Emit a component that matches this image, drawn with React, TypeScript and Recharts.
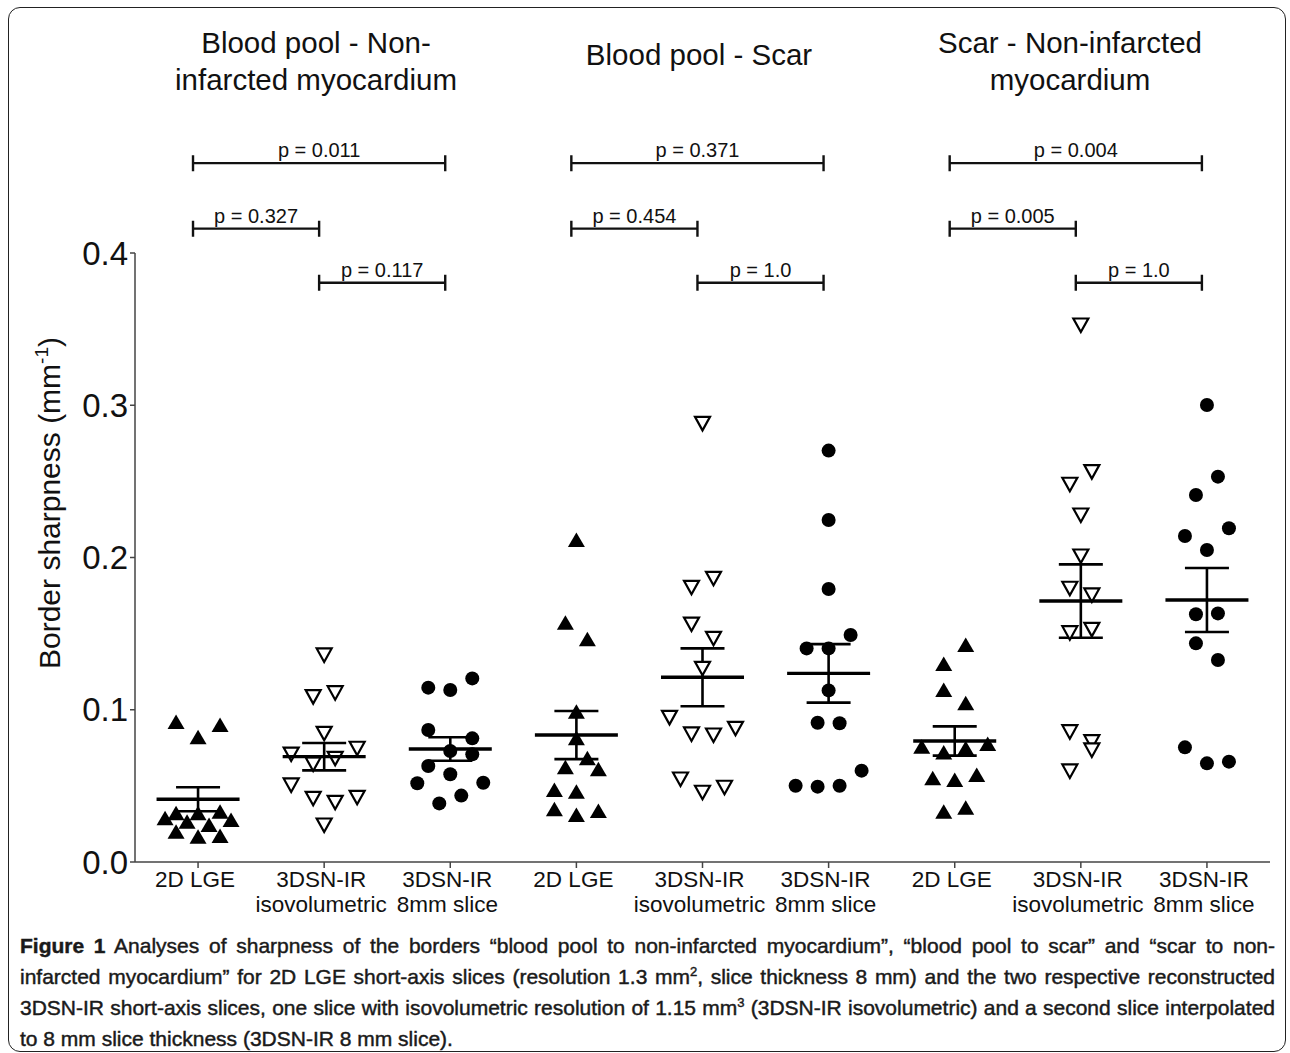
import React from "react";
import { ScatterChart, Scatter, XAxis, YAxis, ErrorBar, ReferenceLine } from "recharts";

const FONT = '"Liberation Sans", Arial, Helvetica, sans-serif';

// tick labels (one entry per column, lines split)
const tickLines = [
  ["2D LGE"], ["3DSN-IR", "isovolumetric"], ["3DSN-IR", "8mm slice"],
  ["2D LGE"], ["3DSN-IR", "isovolumetric"], ["3DSN-IR", "8mm slice"],
  ["2D LGE"], ["3DSN-IR", "isovolumetric"], ["3DSN-IR", "8mm slice"],
];
const yTicks = [0, 0.1, 0.2, 0.3, 0.4];
const sectionTitles = [
  ["Blood pool - Non-", "infarcted myocardium"],
  ["Blood pool - Scar"],
  ["Scar - Non-infarcted", "myocardium"],
];

// border sharpness values (mm^-1)
const bpNiLge = [0.092, 0.082, 0.09, 0.0287, 0.032, 0.032, 0.033, 0.0276, 0.0265, 0.0243, 0.0199, 0.0166, 0.0171];
const bpNiIso = [0.136, 0.1086, 0.1112, 0.0845, 0.0709, 0.0747, 0.0681, 0.0644, 0.0506, 0.0418, 0.0392, 0.0425, 0.0243];
const bpNi8mm = [0.1206, 0.1145, 0.113, 0.0867, 0.0812, 0.0729, 0.0707, 0.0631, 0.0576, 0.0517, 0.0521, 0.0436, 0.0385];
const bpScarLge = [0.2115, 0.1572, 0.1463, 0.0987, 0.0812, 0.0681, 0.0622, 0.0609, 0.0473, 0.0462, 0.0346, 0.0309, 0.0335];
const bpScarIso = [0.2881, 0.1863, 0.1804, 0.1563, 0.1469, 0.1272, 0.095, 0.0841, 0.0834, 0.0878, 0.0545, 0.0458, 0.0491];
const bpScar8mm = [0.2702, 0.2246, 0.1793, 0.1491, 0.1403, 0.1403, 0.1127, 0.0915, 0.0911, 0.06, 0.0501, 0.0495, 0.0501];
const scarNiLge = [0.1425, 0.13, 0.113, 0.1042, 0.0757, 0.072, 0.0747, 0.0775, 0.055, 0.0539, 0.0571, 0.033, 0.0357];
const scarNiIso = [0.3527, 0.2564, 0.2481, 0.2279, 0.201, 0.1798, 0.1754, 0.1506, 0.1528, 0.0856, 0.079, 0.0736, 0.0598];
const scarNi8mm = [0.3002, 0.2531, 0.2411, 0.2192, 0.2141, 0.2049, 0.1627, 0.1633, 0.1436, 0.1327, 0.0753, 0.0648, 0.0659];

// mean and SEM per column
const means = [0.0412, 0.0692, 0.0742, 0.0834, 0.1213, 0.1239, 0.0795, 0.1714, 0.1721];
const sems = [0.0079, 0.009, 0.0077, 0.0158, 0.019, 0.0192, 0.0096, 0.0241, 0.021];

// p-values per section: [first vs last, first vs second, second vs last]
const pValues = [
  ["p = 0.011", "p = 0.327", "p = 0.117"],
  ["p = 0.371", "p = 0.454", "p = 1.0"],
  ["p = 0.004", "p = 0.005", "p = 1.0"],
];
const bracketPairs = [[0, 2], [0, 1], [1, 2]];
const bracketLevels = [0.459, 0.416, 0.3805];

// scatter-dot column slots (horizontal spread of each point)
const slotsLge0 = [-2, 0, 2, -3, -2, 0, 2, 3, -1, 1, -2, 0, 2];
const slotsIso0 = [0, -1, 1, 0, -3, 3, 1, -1, -3, -1, 1, 3, 0];
const slots8mm0 = [2, -2, 0, -2, 2, 0, 2, -2, 0, -3, 3, 1, -1];
const slotsLge1 = [0, -1, 1, 0, 0, 1, -1, 2, -2, 0, -2, 0, 2];
const slotsIso1 = [0, 1, -1, -1, 1, 0, -3, -1, 1, 3, -2, 0, 2];
const slots8mm1 = [0, 0, 0, 2, -2, 0, 0, -1, 1, 3, -3, -1, 1];
const slotsLge2 = [1, -1, -1, 1, -3, -1, 1, 3, -2, 0, 2, -1, 1];
const slotsIso2 = [0, 1, -1, 0, 0, -1, 1, -1, 1, -1, 1, 1, -1];
const slots8mm2 = [0, 1, -1, 2, -2, 0, -1, 1, -1, 1, -2, 0, 2];

const SLOT = 0.0872;
const BRACKET_SHIFT = -0.04;

const columns = [
  { values: bpNiLge, slots: slotsLge0, kind: "up" },
  { values: bpNiIso, slots: slotsIso0, kind: "down" },
  { values: bpNi8mm, slots: slots8mm0, kind: "dot" },
  { values: bpScarLge, slots: slotsLge1, kind: "up" },
  { values: bpScarIso, slots: slotsIso1, kind: "down" },
  { values: bpScar8mm, slots: slots8mm1, kind: "dot" },
  { values: scarNiLge, slots: slotsLge2, kind: "up" },
  { values: scarNiIso, slots: slotsIso2, kind: "down" },
  { values: scarNi8mm, slots: slots8mm2, kind: "dot" },
];

const meanData = means.map((m, i) => ({ x: i, y: m, err: sems[i] }));

const UpTri = (p: any) => (
  <path d={`M${p.cx},${p.cy - 7.5} L${p.cx + 8.5},${p.cy + 7} L${p.cx - 8.5},${p.cy + 7} Z`} fill="#000" />
);
const DownTri = (p: any) => (
  <path
    d={`M${p.cx - 7.5},${p.cy - 6.5} L${p.cx + 7.5},${p.cy - 6.5} L${p.cx},${p.cy + 7} Z`}
    fill="#fff"
    stroke="#000"
    strokeWidth={2.2}
    strokeLinejoin="miter"
  />
);
const Dot = (p: any) => <circle cx={p.cx} cy={p.cy} r={7} fill="#000" />;
const MeanLine = (p: any) => (
  <line x1={p.cx - 41.5} x2={p.cx + 41.5} y1={p.cy} y2={p.cy} stroke="#000" strokeWidth={3.4} />
);
const shapes: Record<string, any> = { up: UpTri, down: DownTri, dot: Dot };

const Bracket = (p: any) => (
  <path
    d={`M${p.x1},${p.y1 - 8} V${p.y1 + 8} M${p.x1},${p.y1} H${p.x2} M${p.x2},${p.y1 - 8} V${p.y1 + 8}`}
    stroke="#111"
    strokeWidth={2.4}
    fill="none"
  />
);

const XTick = (props: any) => {
  const { x, y, payload } = props;
  const lines = tickLines[payload.value] ?? [];
  return (
    <text x={x - 3} y={y} textAnchor="middle" fontSize={22.5} fill="#111" fontFamily={FONT}>
      {lines.map((l, i) => (
        <tspan key={i} x={x - 3} dy={i === 0 ? 17 : 25}>
          {l}
        </tspan>
      ))}
    </text>
  );
};

const YLabel = () => (
  <text transform="translate(60, 503) rotate(-90)" textAnchor="middle" fontSize={30} fill="#111" fontFamily={FONT}>
    Border sharpness (mm
    <tspan fontSize={19} dy={-12}>-1</tspan>
    <tspan dy={12}>)</tspan>
  </text>
);

const titleCenters = [316, 699, 1070];

export default function App() {
  return (
    <div style={{ position: "absolute", left: 0, top: 0, width: 1290, height: 1053, background: "#fff", fontFamily: FONT }}>
      <div
        style={{
          position: "absolute",
          left: 8,
          top: 7,
          width: 1276,
          height: 1043,
          border: "1.5px solid #222",
          borderRadius: 12,
        }}
      />
      {sectionTitles.map((lines, s) => (
        <div
          key={s}
          style={{
            position: "absolute",
            left: titleCenters[s] - 200,
            width: 400,
            top: lines.length > 1 ? 24 : 36,
            textAlign: "center",
            fontSize: 29.5,
            lineHeight: "37px",
            color: "#111",
          }}
        >
          {lines.map((l, i) => (
            <div key={i}>{l}</div>
          ))}
        </div>
      ))}
      <div style={{ position: "absolute", left: 0, top: 0 }}>
        <ScatterChart width={1290} height={1053} margin={{ top: 253, right: 20, bottom: 131, left: 0 }}>
          <XAxis
            type="number"
            dataKey="x"
            domain={[-0.5, 8.5]}
            ticks={[0, 1, 2, 3, 4, 5, 6, 7, 8]}
            interval={0}
            height={60}
            tickSize={6}
            tick={<XTick />}
            axisLine={{ stroke: "#444", strokeWidth: 1.5 }}
            tickLine={{ stroke: "#444", strokeWidth: 1.5 }}
          />
          <YAxis
            type="number"
            dataKey="y"
            domain={[0, 0.4]}
            ticks={yTicks}
            width={135}
            tickSize={5}
            tickFormatter={(v: number) => v.toFixed(1)}
            tick={{ fontSize: 33, fill: "#111", fontFamily: FONT }}
            axisLine={{ stroke: "#444", strokeWidth: 1.5 }}
            tickLine={{ stroke: "#444", strokeWidth: 1.5 }}
            label={<YLabel />}
          />
          {columns.map((c, i) => (
            <Scatter
              key={i}
              data={c.values.map((v, k) => ({ x: i + c.slots[k] * SLOT, y: v }))}
              shape={shapes[c.kind]}
              isAnimationActive={false}
            />
          ))}
          <Scatter data={meanData} shape={MeanLine} isAnimationActive={false}>
            <ErrorBar dataKey="err" direction="y" width={22} stroke="#000" strokeWidth={2.6} />
          </Scatter>
          {pValues.map((ps, s) =>
            ps.map((p, b) => (
              <ReferenceLine
                key={`${s}-${b}`}
                segment={[
                  { x: s * 3 + bracketPairs[b][0] + BRACKET_SHIFT, y: bracketLevels[b] },
                  { x: s * 3 + bracketPairs[b][1] + BRACKET_SHIFT, y: bracketLevels[b] },
                ]}
                ifOverflow="visible"
                shape={Bracket}
                label={{ value: p, position: "top", offset: 6, fontSize: 20, fill: "#111", fontFamily: FONT }}
              />
            ))
          )}
        </ScatterChart>
      </div>
      <div
        style={{
          position: "absolute",
          left: 20,
          top: 930,
          width: 1255,
          fontSize: 21,
          lineHeight: "31px",
          color: "#1a1a1a",
          WebkitTextStroke: "0.45px #1a1a1a",
        }}
      >
        <div style={{ textAlign: "justify", textAlignLast: "justify" }}>
          <b>Figure 1</b> Analyses of sharpness of the borders “blood pool to non-infarcted myocardium”, “blood pool to scar” and “scar to non-
        </div>
        <div style={{ textAlign: "justify", textAlignLast: "justify" }}>
          infarcted myocardium” for 2D LGE short-axis slices (resolution 1.3 mm<sup style={{ fontSize: 13, lineHeight: 0 }}>2</sup>, slice thickness 8 mm) and the two respective reconstructed
        </div>
        <div style={{ textAlign: "justify", textAlignLast: "justify" }}>
          3DSN-IR short-axis slices, one slice with isovolumetric resolution of 1.15 mm<sup style={{ fontSize: 13, lineHeight: 0 }}>3</sup> (3DSN-IR isovolumetric) and a second slice interpolated
        </div>
        <div>to 8 mm slice thickness (3DSN-IR 8 mm slice).</div>
      </div>
    </div>
  );
}
